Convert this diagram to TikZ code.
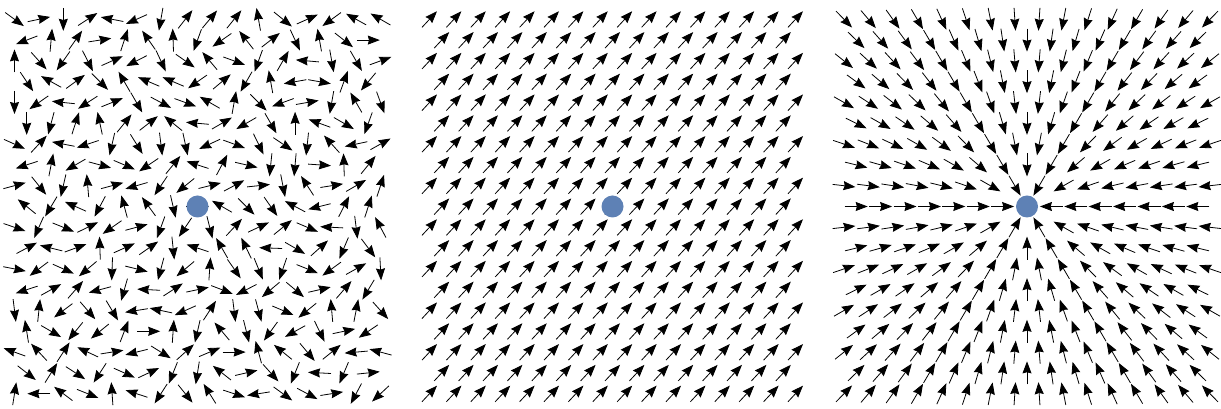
\documentclass[tikz,border=0pt]{standalone}
\usetikzlibrary{arrows.meta}
\definecolor{dotblue}{RGB}{94,129,181}
\tikzset{
  vec/.style={line width=0.8pt, -{Stealth[length=12pt,width=9pt,inset=1.2pt]}},
  dotc/.style={circle, fill=dotblue, minimum size=22pt, inner sep=0pt}
}
\begin{document}
\begin{tikzpicture}[x=1pt,y=1pt]
\useasboundingbox (0,0) rectangle (1221,409);
% ---------- left panel: random directions ----------
\foreach \j/\angs in {
 0/{-36,12,-90,33,169,204,-100,52,50,51,100,-39,24,216,151,150},
 1/{201,85,55,9,72,125,92,-110,215,128,38,-65,100,-38,0},
 2/{90,-48,235,-63,24,207,-65,-35,130,-20,250,60,175,-80,300,20},
 3/{-56,151,36,-45,120,157,157,215,40,-120,100,190,-10,70,230},
 4/{-90,215,174,213,22,-60,-28,-20,150,80,-45,200,10,260,120,-70},
 5/{-90,-105,72,102,51,38,141,175,30,210,-60,90,160,-30,250},
 6/{-24,47,169,198,-103,-58,-83,-78,205,-20,-64,-34,-96,132,192,29},
 7/{198,79,210,-15,-23,214,51,162,62,-13,-96,-95,-4,92,51},
 8/{15,-51,-103,95,15,196,236,219,14,28,6,-79,123,9,30,72},
 9/{141,239,156,242,105,126,-77,0,150,-45,-55,152,194,63,72},
 10/{-19,-114,-22,26,215,15,-110,236,-76,47,25,39,-23,177,-83,118},
 11/{28,166,20,92,24,35,-84,162,120,116,178,-30,42,-113,-53},
 12/{-11,217,-24,220,-92,-14,-105,220,86,-55,-68,-109,-22,216,29,-87},
 13/{198,29,49,195,-106,177,33,12,-21,207,220,-40,13,49,239},
 14/{-83,84,217,-49,-59,189,168,204,57,-83,-75,-23,219,95,79,-48},
 15/{99,-30,231,219,69,0,86,-103,130,-76,234,209,-64,12,214},
 16/{160,133,57,155,9,194,-32,42,23,0,105,141,-50,39,185,165},
 17/{-38,58,-33,237,-24,25,-112,-99,142,13,-48,-112,177,-113,6},
 18/{81,180,143,-22,94,162,237,-51,122,-18,189,-36,-28,9,242,223}}{
  \pgfmathsetmacro{\py}{409-(206.5+(\j-9)*20.8)}
  \pgfmathsetmacro{\off}{mod(\j,2)==0 ? -7.5 : -7}
  \foreach \a [count=\k from 0] in \angs {
    \pgfmathsetmacro{\px}{197.5+(\k+\off)*24.4}
    \draw[vec] (\px,\py) ++(\a+180:11.5) -- ++(\a:23);
  }
}
% ---------- middle panel: uniform field ----------
\foreach \j in {0,...,18}{
  \pgfmathsetmacro{\py}{409-(206.5+(\j-9)*20.8)}
  \pgfmathsetmacro{\off}{mod(\j,2)==0 ? -7.5 : -7}
  \pgfmathtruncatemacro{\nk}{mod(\j,2)==0 ? 15 : 14}
  \foreach \k in {0,...,\nk}{
    \pgfmathsetmacro{\px}{612.5+(\k+\off)*24.4}
    \draw[vec] (\px,\py) ++(227:11) -- ++(47:22);
  }
}
% ---------- right panel: radial field towards centre ----------
\foreach \j in {0,...,18}{
  \pgfmathsetmacro{\py}{409-(206.5+(\j-9)*20.8)}
  \pgfmathsetmacro{\off}{mod(\j,2)==0 ? -7.5 : -7}
  \pgfmathtruncatemacro{\nk}{mod(\j,2)==0 ? 15 : 14}
  \foreach \k in {0,...,\nk}{
    \pgfmathsetmacro{\px}{1027+(\k+\off)*24.4}
    \pgfmathsetmacro{\dd}{abs(\px-1027)+abs(\py-(409-206.5))}
    \ifdim\dd pt>1pt
      \pgfmathsetmacro{\a}{atan2((409-206.5)-\py,1027-\px)}
      \draw[vec] (\px,\py) ++(\a+180:11.5) -- ++(\a:23);
    \fi
  }
}
% ---------- dots ----------
\node[dotc] (d1) at (197.5,409-206.5) {};
\node[dotc] (d2) at (612.5,409-206.5) {};
\node[dotc] (d3) at (1027,409-206.5) {};
\end{tikzpicture}
\end{document}
